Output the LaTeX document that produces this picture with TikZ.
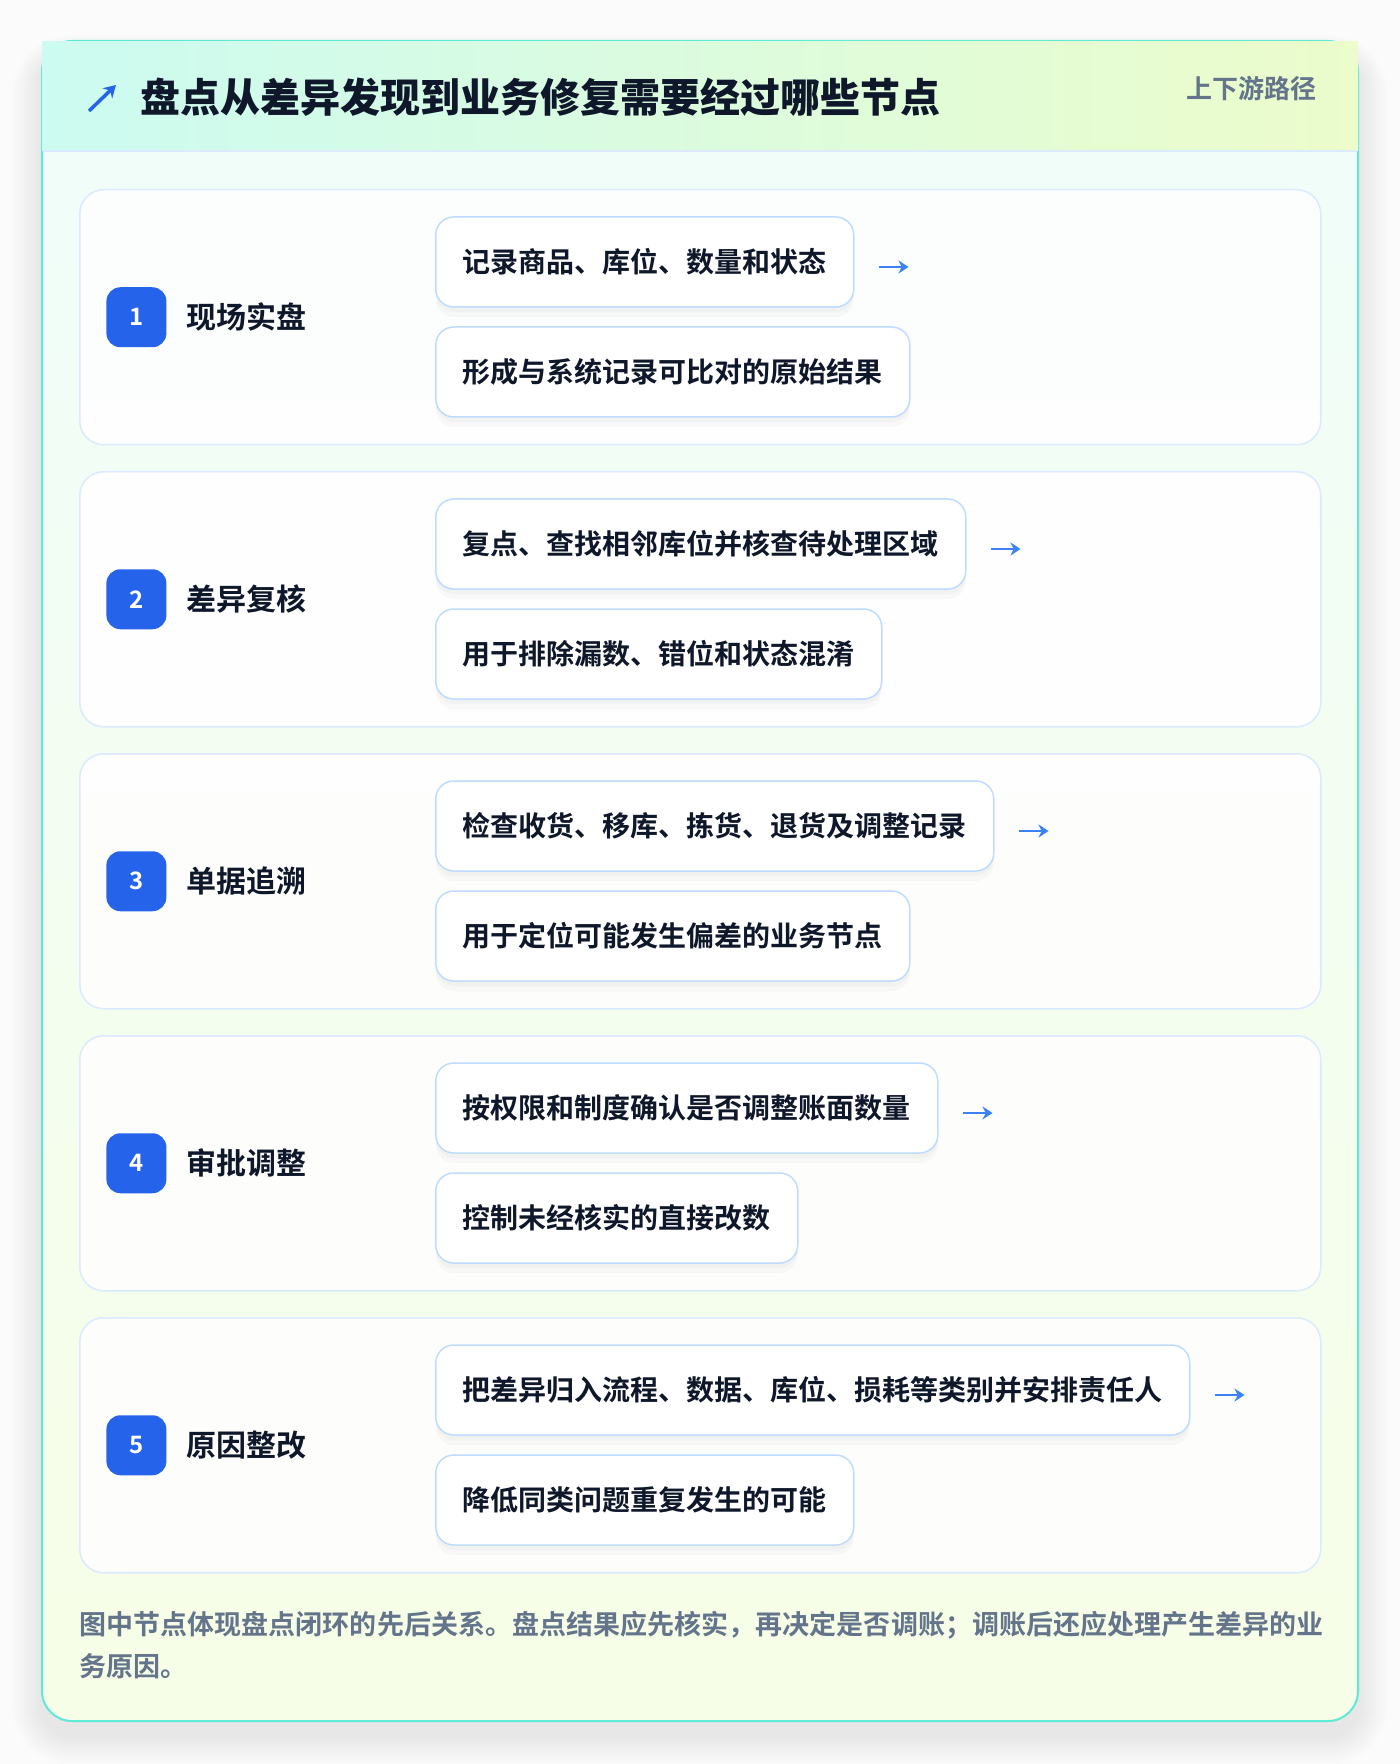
\documentclass[tikz,border=0pt]{standalone}
\usepackage{fontspec}
\setmainfont{Noto Sans CJK SC}[BoldFont={Noto Sans CJK SC Bold}]
\newfontfamily\titelschrift{Noto Sans CJK SC Black}
\XeTeXlinebreaklocale "zh"
\XeTeXlinebreakskip=0pt plus 1pt
\usepackage{tikz}
\usetikzlibrary{calc,
                positioning,
                arrows.meta
                }

\definecolor{seite}{HTML}{FBFBFC}
\definecolor{rahmen}{HTML}{5EEAD4}
\definecolor{kopflinks}{HTML}{CCFBF1}
\definecolor{kopfrechts}{HTML}{ECFCCB}
\definecolor{kopflinie}{HTML}{DBEAFE}
\definecolor{koerperoben}{HTML}{F0FDFA}
\definecolor{koerperunten}{HTML}{F7FEE7}
\definecolor{stufenrand}{HTML}{DBEAFE}
\definecolor{karterand}{HTML}{BFDBFE}
\definecolor{nrblau}{HTML}{2563EB}
\definecolor{pfeilblau}{HTML}{3B82F6}
\definecolor{tinte}{HTML}{0F172A}
\definecolor{grautext}{HTML}{64748B}

\begin{document}
\begin{tikzpicture}[x=0.5pt, y=-0.5pt,
    stagebox/.style={draw=stufenrand, line width=0.75pt, fill=white, fill opacity=0.85,
                     rounded corners=12pt, minimum width=620.5pt, minimum height=127.5pt,
                     inner sep=0pt, anchor=north west},
    badge/.style={fill=nrblau, text=white, rounded corners=7pt, minimum size=30pt,
                  inner sep=0pt, font=\fontsize{12}{12}\selectfont\bfseries},
    stagename/.style={inner sep=0pt, text=tinte, font=\fontsize{15}{15}\selectfont\bfseries},
    itembox/.style={draw=karterand, line width=0.75pt, fill=white, rounded corners=9pt,
                    minimum height=45pt, inner xsep=13.5pt, inner ysep=0pt, anchor=west,
                    text=tinte, font=\fontsize{14}{14}\selectfont\bfseries,
                    preaction={fill=black, fill opacity=0.025, draw=none,
                               transform canvas={yshift=-5pt}},
                    preaction={fill=black, fill opacity=0.025, draw=none,
                               transform canvas={yshift=-2.5pt}}},
    pfeil/.style={draw=pfeilblau, line width=1.25pt, -{Stealth[length=5pt,width=6.5pt]}}
    ]

    % Seite festlegen
    \useasboundingbox[fill=seite] (0,0) rectangle (1400,1764);

    % weicher Schatten der Karte
    \foreach \s in {1,...,10}
        \fill[black, fill opacity=0.007, rounded corners=15pt+\s*1.5pt]
            ({42-3*\s},{41-2*\s+14}) rectangle ({1358+3*\s},{1721+3*\s+14});

    % Karte
    \shade[rounded corners=15pt, top color=koerperoben, bottom color=koerperunten]
        (42,41) rectangle (1358,1721);
    \draw[rahmen, line width=1pt, rounded corners=15pt] (42,41) rectangle (1358,1721);

    % Kopfzeile
    \shade[left color=kopflinks, right color=kopfrechts] (42,42) rectangle (1358,151);
    \draw[kopflinie, line width=1pt] (43,151) -- (1357,151);

    % Symbol und Titel
    \coordinate (ico1) at (89,111);
    \coordinate (ico2) at (116,85);
    \draw[nrblau, line width=1.75pt, -{Stealth[length=6pt,width=7pt]}] (ico1) -- (ico2);
    \node[anchor=west, inner sep=0pt, text=tinte, font=\fontsize{20}{20}\selectfont\titelschrift]
        (titel) at (140,97) {盘点从差异发现到业务修复需要经过哪些节点};
    \node[anchor=east, inner sep=0pt, text=grautext, font=\fontsize{13}{13}\selectfont\bfseries]
        (pfad) at (1317,89) {上下游路径};

    % Stufe 1
    \node[stagebox] (stage1) at (79,189) {};
    \node[badge, right=13.5pt of stage1.west] (badge1) {1};
    \node[stagename, right=9.5pt of badge1] (name1) {现场实盘};
    \node[itembox] (itemA1) at (435,262) {记录商品、库位、数量和状态};
    \node[itembox] (itemB1) at (435,372) {形成与系统记录可比对的原始结果};
    \coordinate (pf1) at ($(itemA1.east)+(24,5)$);
    \draw[pfeil] (pf1) -- ++(30,0);

    % Stufe 2
    \node[stagebox] (stage2) at (79,471) {};
    \node[badge, right=13.5pt of stage2.west] (badge2) {2};
    \node[stagename, right=9.5pt of badge2] (name2) {差异复核};
    \node[itembox] (itemA2) at (435,544) {复点、查找相邻库位并核查待处理区域};
    \node[itembox] (itemB2) at (435,654) {用于排除漏数、错位和状态混淆};
    \coordinate (pf2) at ($(itemA2.east)+(24,5)$);
    \draw[pfeil] (pf2) -- ++(30,0);

    % Stufe 3
    \node[stagebox] (stage3) at (79,753) {};
    \node[badge, right=13.5pt of stage3.west] (badge3) {3};
    \node[stagename, right=9.5pt of badge3] (name3) {单据追溯};
    \node[itembox] (itemA3) at (435,826) {检查收货、移库、拣货、退货及调整记录};
    \node[itembox] (itemB3) at (435,936) {用于定位可能发生偏差的业务节点};
    \coordinate (pf3) at ($(itemA3.east)+(24,5)$);
    \draw[pfeil] (pf3) -- ++(30,0);

    % Stufe 4
    \node[stagebox] (stage4) at (79,1035) {};
    \node[badge, right=13.5pt of stage4.west] (badge4) {4};
    \node[stagename, right=9.5pt of badge4] (name4) {审批调整};
    \node[itembox] (itemA4) at (435,1108) {按权限和制度确认是否调整账面数量};
    \node[itembox] (itemB4) at (435,1218) {控制未经核实的直接改数};
    \coordinate (pf4) at ($(itemA4.east)+(24,5)$);
    \draw[pfeil] (pf4) -- ++(30,0);

    % Stufe 5
    \node[stagebox] (stage5) at (79,1317) {};
    \node[badge, right=13.5pt of stage5.west] (badge5) {5};
    \node[stagename, right=9.5pt of badge5] (name5) {原因整改};
    \node[itembox] (itemA5) at (435,1390) {把差异归入流程、数据、库位、损耗等类别并安排责任人};
    \node[itembox] (itemB5) at (435,1500) {降低同类问题重复发生的可能};
    \coordinate (pf5) at ($(itemA5.east)+(24,5)$);
    \draw[pfeil] (pf5) -- ++(30,0);

    % Fusszeile
    \node[anchor=north west, inner sep=0pt, text width=623pt, align=left, text=grautext,
          font=\fontsize{13.5}{21}\selectfont\bfseries] (fuss) at (79,1611)
        {图中节点体现盘点闭环的先后关系。盘点结果应先核实，再决定是否调账；调账后还应处理产生差异的业务原因。};

\end{tikzpicture}
\end{document}
